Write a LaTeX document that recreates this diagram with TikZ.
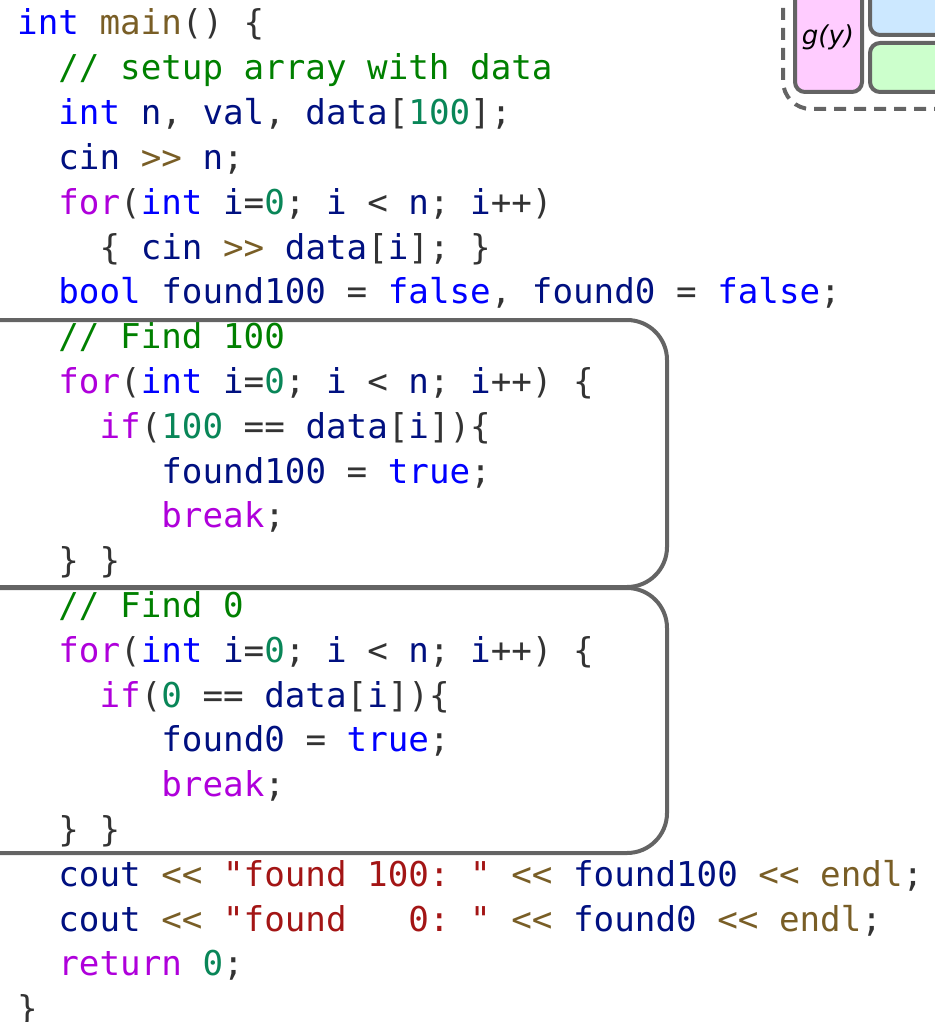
\documentclass[tikz,border=0pt]{standalone}
\usepackage{fontspec}
\newfontfamily\codefont{DejaVu Sans Mono}
\newfontfamily\labelfont{DejaVu Sans}
\usetikzlibrary{positioning}
\definecolor{kwblue}{HTML}{0000FF}
\definecolor{ctlpurple}{HTML}{AF00DB}
\definecolor{fnbrown}{HTML}{795E26}
\definecolor{varnavy}{HTML}{001080}
\definecolor{numteal}{HTML}{098658}
\definecolor{strred}{HTML}{A31515}
\definecolor{cmtgreen}{HTML}{008000}
\definecolor{punct}{HTML}{333333}
\definecolor{outline}{HTML}{646464}
\definecolor{pinkfill}{HTML}{FFCCFF}
\definecolor{bluefill}{HTML}{CCE8FF}
\definecolor{greenfill}{HTML}{CCFFCC}
\newcommand{\ckw}[1]{\textcolor{kwblue}{#1}}
\newcommand{\cctl}[1]{\textcolor{ctlpurple}{#1}}
\newcommand{\cfn}[1]{\textcolor{fnbrown}{#1}}
\newcommand{\cvar}[1]{\textcolor{varnavy}{#1}}
\newcommand{\cnum}[1]{\textcolor{numteal}{#1}}
\newcommand{\cstr}[1]{\textcolor{strred}{#1}}
\newcommand{\ccmt}[1]{\textcolor{cmtgreen}{#1}}
\newcommand{\lx}[1]{17+20.6*#1}
\newcommand{\ly}[1]{35+44.8*#1}
\tikzset{
    codeline/.style={anchor=base west, inner sep=0pt, text=punct, font=\codefont\fontsize{34.2}{40}\selectfont\frenchspacing},
    blockbox/.style={draw=outline, line width=4pt, rounded corners=40pt},
    groupbox/.style={draw=outline, line width=4pt, dash pattern=on 12pt off 8pt, rounded corners=28pt},
    funcbox/.style={draw=outline, line width=4pt, rounded corners=10pt}
}
\begin{document}
\begin{tikzpicture}[x=1pt, y=-1pt]
\useasboundingbox (0,0) rectangle (934,1022);
% code lines
\node[codeline] (l0) at ({\lx{0}},{\ly{0}}) {\ckw{int} \cfn{main}() \{};
\node[codeline] (l1) at ({\lx{2}},{\ly{1}}) {\ccmt{// setup array with data}};
\node[codeline] (l2) at ({\lx{2}},{\ly{2}}) {\ckw{int} \cvar{n}, \cvar{val}, \cvar{data}[\cnum{100}];};
\node[codeline] (l3) at ({\lx{2}},{\ly{3}}) {\cvar{cin} \cfn{>>} \cvar{n};};
\node[codeline] (l4) at ({\lx{2}},{\ly{4}}) {\cctl{for}(\ckw{int} \cvar{i}=\cnum{0}; \cvar{i} < \cvar{n}; \cvar{i}++)};
\node[codeline] (l5) at ({\lx{4}},{\ly{5}}) {\{ \cvar{cin} \cfn{>>} \cvar{data}[\cvar{i}]; \}};
\node[codeline] (l6) at ({\lx{2}},{\ly{6}}) {\ckw{bool} \cvar{found100} = \ckw{false}, \cvar{found0} = \ckw{false};};
\node[codeline] (l7) at ({\lx{2}},{\ly{7}}) {\ccmt{// Find 100}};
\node[codeline] (l8) at ({\lx{2}},{\ly{8}}) {\cctl{for}(\ckw{int} \cvar{i}=\cnum{0}; \cvar{i} < \cvar{n}; \cvar{i}++) \{};
\node[codeline] (l9) at ({\lx{4}},{\ly{9}}) {\cctl{if}(\cnum{100} == \cvar{data}[\cvar{i}])\{};
\node[codeline] (l10) at ({\lx{7}},{\ly{10}}) {\cvar{found100} = \ckw{true};};
\node[codeline] (l11) at ({\lx{7}},{\ly{11}}) {\cctl{break};};
\node[codeline] (l12) at ({\lx{2}},{\ly{12}}) {\} \}};
\node[codeline] (l13) at ({\lx{2}},{\ly{13}}) {\ccmt{// Find 0}};
\node[codeline] (l14) at ({\lx{2}},{\ly{14}}) {\cctl{for}(\ckw{int} \cvar{i}=\cnum{0}; \cvar{i} < \cvar{n}; \cvar{i}++) \{};
\node[codeline] (l15) at ({\lx{4}},{\ly{15}}) {\cctl{if}(\cnum{0} == \cvar{data}[\cvar{i}])\{};
\node[codeline] (l16) at ({\lx{7}},{\ly{16}}) {\cvar{found0} = \ckw{true};};
\node[codeline] (l17) at ({\lx{7}},{\ly{17}}) {\cctl{break};};
\node[codeline] (l18) at ({\lx{2}},{\ly{18}}) {\} \}};
\node[codeline] (l19) at ({\lx{2}},{\ly{19}}) {\cvar{cout} \cfn{<<} \cstr{"found 100: "} \cfn{<<} \cvar{found100} \cfn{<<} \cfn{endl};};
\node[codeline] (l20) at ({\lx{2}},{\ly{20}}) {\cvar{cout} \cfn{<<} \cstr{"found~~~0: "} \cfn{<<} \cvar{found0} \cfn{<<} \cfn{endl};};
\node[codeline] (l21) at ({\lx{2}},{\ly{21}}) {\cctl{return} \cnum{0};};
\node[codeline] (l22) at ({\lx{0}},{\ly{22}}) {\}};
% loop blocks
\draw[blockbox] (-40,320) rectangle (667,587);
\draw[blockbox] (-40,588) rectangle (667,853);
% clipped group at the top right
\draw[groupbox] (783,-60) rectangle (1010,109);
\filldraw[funcbox, fill=pinkfill] (795,-40) rectangle (862,92);
\filldraw[funcbox, fill=bluefill] (870,-40) rectangle (1000,35);
\filldraw[funcbox, fill=greenfill] (870,43) rectangle (1000,92);
\node[font=\labelfont\itshape\fontsize{26}{30}\selectfont, inner sep=0pt] (gy) at (828,37) {g(y)};
\end{tikzpicture}
\end{document}
